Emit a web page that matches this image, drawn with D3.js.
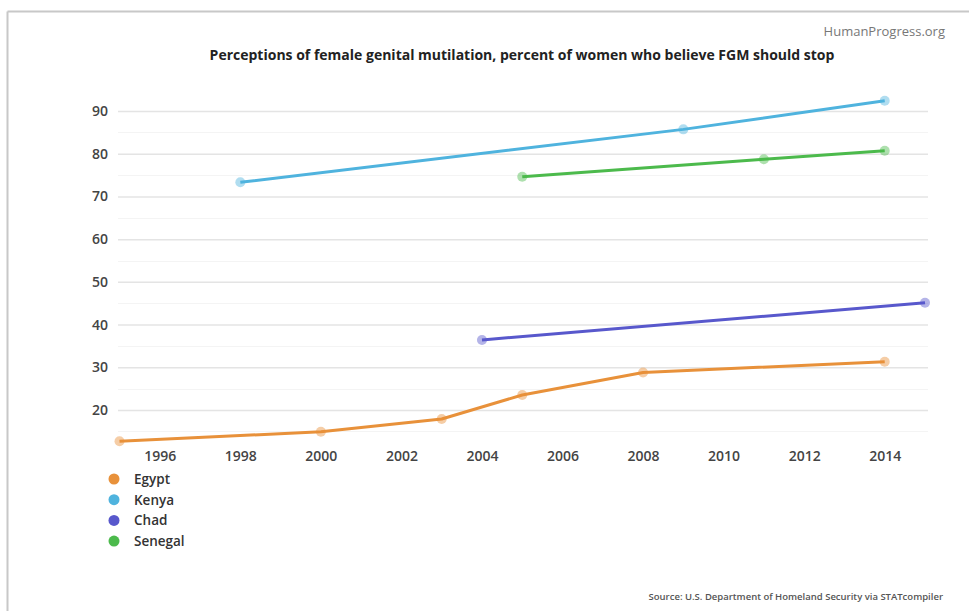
<!DOCTYPE html>
<html>
<head>
<meta charset="utf-8">
<script src="https://cdnjs.cloudflare.com/ajax/libs/d3/7.8.5/d3.min.js"></script>
<style>
  body { margin: 0; background: #fff; font-family: "Open Sans", "Noto Sans", sans-serif; }
  svg { display: block; }
</style>
</head>
<body>
<div id="chart"></div>
<script>
// data
var countries = ['Egypt', 'Kenya', 'Chad', 'Senegal'];
var colors = ['#e8913a', '#4fb3de', '#5858cc', '#4cba4c'];
var egypt = [[1995, 12.7], [2000, 14.9], [2003, 17.9], [2005, 23.5], [2008, 28.8], [2014, 31.3]];
var kenya = [[1998, 73.3], [2009, 85.7], [2014, 92.4]];
var chad = [[2004, 36.4], [2015, 45.1]];
var senegal = [[2005, 74.6], [2011, 78.7], [2014, 80.7]];
var yTicks = [20, 30, 40, 50, 60, 70, 80, 90];
var xTicks = [1996, 1998, 2000, 2002, 2004, 2006, 2008, 2010, 2012, 2014];

var series = [egypt, kenya, chad, senegal];

var width = 969, height = 611;
var svg = d3.select('#chart').append('svg')
	.attr('width', width).attr('height', height);

// frame (top + left only, like the screenshot)
svg.append('line').attr('x1', 7.5).attr('x2', width).attr('y1', 11.5).attr('y2', 11.5)
	.attr('stroke', '#c8c8c8').attr('stroke-width', 2);
svg.append('line').attr('x1', 7.5).attr('x2', 7.5).attr('y1', 11.5).attr('y2', height)
	.attr('stroke', '#c8c8c8').attr('stroke-width', 2);

var x = d3.scaleLinear().domain([1995, 2015]).range([119.5, 925]);
var y = d3.scaleLinear().domain([20, 90]).range([410, 111]);

// minor gridlines (faint, halfway)
var minor = d3.range(15, 95, 10);
svg.selectAll('.minor').data(minor).enter().append('line')
	.attr('class', 'minor')
	.attr('x1', 118).attr('x2', 928)
	.attr('y1', function(d){return Math.round(y(d)) + 0.5;})
	.attr('y2', function(d){return Math.round(y(d)) + 0.5;})
	.attr('stroke', '#f4f4f4').attr('stroke-width', 1);

// y axis as gridlines
var yAxis = d3.axisLeft(y).tickValues(yTicks).tickSize(-(928 - 118)).tickPadding(10);
var gy = svg.append('g').attr('transform', 'translate(118,0)').call(yAxis);
gy.select('.domain').remove();
gy.selectAll('.tick line').attr('stroke', '#e4e4e4').attr('stroke-width', 1.5);
gy.selectAll('.tick text')
	.attr('fill', '#444').style('font-size', '14px').style('font-weight', 600)
	.style('font-family', '"Open Sans", sans-serif');

// x axis, labels only
var xAxis = d3.axisBottom(x).tickValues(xTicks).tickFormat(d3.format('d')).tickSize(0).tickPadding(0);
var gx = svg.append('g').attr('transform', 'translate(0,451)').call(xAxis);
gx.select('.domain').remove();
gx.selectAll('.tick text')
	.attr('fill', '#444').style('font-size', '14px').style('font-weight', 600)
	.style('font-family', '"Open Sans", sans-serif');

// lines
var line = d3.line().x(function(d){return x(d[0]);}).y(function(d){return y(d[1]);});
series.forEach(function(s, i){
	svg.append('path').datum(s)
		.attr('d', line)
		.attr('fill', 'none')
		.attr('stroke', colors[i])
		.attr('stroke-width', 3)
		.attr('stroke-linejoin', 'round');
	svg.selectAll('.pt' + i).data(s).enter().append('circle')
		.attr('class', 'pt' + i)
		.attr('cx', function(d){return x(d[0]);})
		.attr('cy', function(d){return y(d[1]);})
		.attr('r', 5)
		.attr('fill', colors[i])
		.attr('fill-opacity', 0.45);
});

// titles
svg.append('text').attr('x', 945).attr('y', 36).attr('text-anchor', 'end')
	.attr('fill', '#777').style('font-size', '13px')
	.text('HumanProgress.org');
svg.append('text').attr('x', 522).attr('y', 60).attr('text-anchor', 'middle')
	.attr('fill', '#222').style('font-size', '14px').style('font-weight', 700)
	.text('Perceptions of female genital mutilation, percent of women who believe FGM should stop');

// legend
var legend = svg.selectAll('.legend').data(countries).enter().append('g')
	.attr('class', 'legend')
	.attr('transform', function(d, i){return 'translate(114,' + (479 + i * 20.7) + ')';});
legend.append('circle').attr('r', 5.5).attr('fill', function(d, i){return colors[i];});
legend.append('text').attr('x', 20).attr('y', 5)
	.attr('fill', '#333').style('font-size', '13.5px').style('font-weight', 600)
	.text(function(d){return d;});

// source
svg.append('text').attr('x', 943).attr('y', 600).attr('text-anchor', 'end')
	.attr('fill', '#555').style('font-size', '9.5px').style('font-weight', 600)
	.text('Source: U.S. Department of Homeland Security via STATcompiler');
</script>
</body>
</html>
